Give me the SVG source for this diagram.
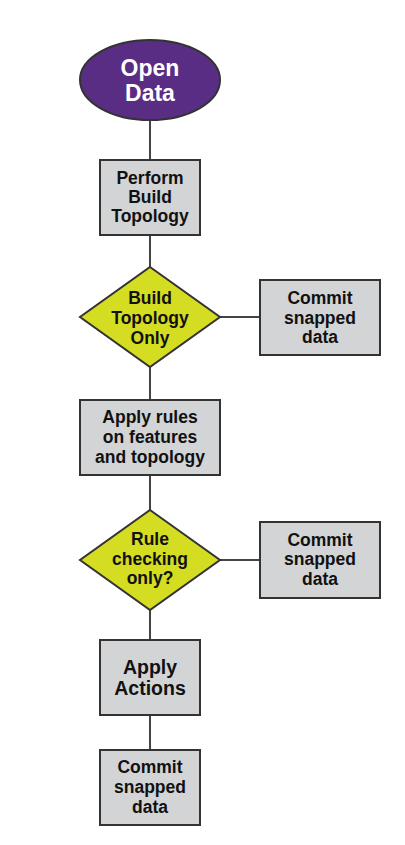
<svg xmlns="http://www.w3.org/2000/svg" width="405" height="845" viewBox="0 0 405 845">
<style>
.box{fill:#d3d4d6;stroke:#333;stroke-width:2}
.dia{fill:#d5dd22;stroke:#333;stroke-width:2}
.conn line{stroke:#444;stroke-width:2}
text{font-family:"Liberation Sans",Arial,sans-serif;font-weight:bold;text-anchor:middle;fill:#111}
.t{font-size:17.5px}
.big{font-size:19.5px}
.start{font-size:23px;fill:#fff}
</style>
<rect width="405" height="845" fill="#fff"/>
<g class="conn" id="connectors">
<line x1="150" y1="120" x2="150" y2="160"/>
<line x1="150" y1="235" x2="150" y2="267"/>
<line x1="150" y1="367" x2="150" y2="400"/>
<line x1="150" y1="475" x2="150" y2="510"/>
<line x1="150" y1="610" x2="150" y2="640"/>
<line x1="150" y1="715" x2="150" y2="750"/>
<line x1="220" y1="317" x2="260" y2="317"/>
<line x1="220" y1="560" x2="260" y2="560"/>
</g>
<g id="open-data">
<ellipse cx="150" cy="80" rx="70" ry="40" fill="#5a2d84" stroke="#333" stroke-width="2"/>
<text class="start" x="150" y="76">Open</text>
<text class="start" x="150" y="101">Data</text>
</g>
<g id="perform-build">
<rect class="box" x="100" y="160" width="100" height="75"/>
<text class="t" x="150" y="184">Perform</text>
<text class="t" x="150" y="203">Build</text>
<text class="t" x="150" y="222">Topology</text>
</g>
<g id="build-topology-only">
<polygon class="dia" points="150,267 220,317 150,367 80,317"/>
<text class="t" x="150" y="304">Build</text>
<text class="t" x="150" y="324">Topology</text>
<text class="t" x="150" y="344">Only</text>
</g>
<g id="commit-1">
<rect class="box" x="260" y="280" width="120" height="75"/>
<text class="t" x="320" y="304">Commit</text>
<text class="t" x="320" y="324">snapped</text>
<text class="t" x="320" y="343">data</text>
</g>
<g id="apply-rules">
<rect class="box" x="80" y="400" width="140" height="75"/>
<text class="t" x="150" y="423">Apply rules</text>
<text class="t" x="150" y="443">on features</text>
<text class="t" x="150" y="463">and topology</text>
</g>
<g id="rule-checking">
<polygon class="dia" points="150,510 220,560 150,610 80,560"/>
<text class="t" x="150" y="545">Rule</text>
<text class="t" x="150" y="565">checking</text>
<text class="t" x="150" y="584">only?</text>
</g>
<g id="commit-2">
<rect class="box" x="260" y="522" width="120" height="76"/>
<text class="t" x="320" y="546">Commit</text>
<text class="t" x="320" y="565">snapped</text>
<text class="t" x="320" y="585">data</text>
</g>
<g id="apply-actions">
<rect class="box" x="100" y="640" width="100" height="75"/>
<text class="big" x="150" y="674">Apply</text>
<text class="big" x="150" y="695">Actions</text>
</g>
<g id="commit-3">
<rect class="box" x="100" y="750" width="100" height="75"/>
<text class="t" x="150" y="773">Commit</text>
<text class="t" x="150" y="793">snapped</text>
<text class="t" x="150" y="813">data</text>
</g>
</svg>
